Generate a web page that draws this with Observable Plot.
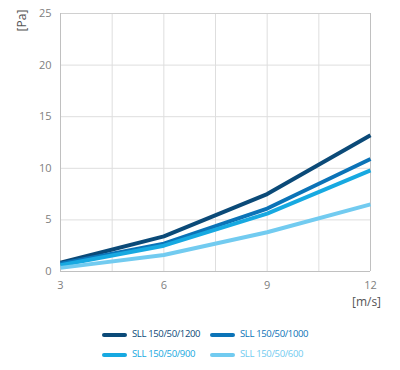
<!DOCTYPE html>
<html><head><meta charset="utf-8">
<script src="https://cdn.jsdelivr.net/npm/d3@7"></script>
<script src="https://cdn.jsdelivr.net/npm/@observablehq/plot@0.6"></script>
<style>
body{margin:0;background:#fff;font-family:"Open Sans",sans-serif;}
#wrap{position:relative;width:400px;height:370px;}
.leg{position:absolute;font-size:9.5px;letter-spacing:-0.35px;white-space:nowrap;line-height:12px;}
.sw{position:absolute;width:25px;height:4px;border-radius:2px;}
</style></head><body>
<div id="wrap"></div>
<script>
const speeds = [3, 6, 9, 12];
const seriesNames = ["SLL 150/50/1200", "SLL 150/50/1000", "SLL 150/50/900", "SLL 150/50/600"];
const colors = ["#0b4a78", "#0b73b7", "#17a9e1", "#72cbf0"];
const v1200 = [0.85, 3.4, 7.5, 13.2];
const v1000 = [0.75, 2.7, 6.1, 10.9];
const v900 = [0.6, 2.5, 5.6, 9.8];
const v600 = [0.35, 1.6, 3.8, 6.5];
const xTicks = [3, 6, 9, 12];
const xGrid = [4.5, 6, 7.5, 9, 10.5, 12];
const yTicks = [0, 5, 10, 15, 20, 25];

const allVals = [v1200, v1000, v900, v600];
const data = [];
seriesNames.forEach((s, i) => speeds.forEach((x, j) => data.push({series: s, x, y: allVals[i][j]})));

const grid = "#dedede";
const plot = Plot.plot({
  width: 400, height: 310,
  marginTop: 13, marginBottom: 39, marginLeft: 60, marginRight: 30,
  style: {fontFamily: "'Open Sans', sans-serif", fontSize: "11px", color: "#808080", background: "#fff"},
  x: {domain: [3, 12], ticks: xTicks, tickSize: 0, tickPadding: 10, label: null},
  y: {domain: [0, 25], ticks: yTicks, tickSize: 0, tickPadding: 9, label: null},
  color: {domain: seriesNames, range: colors},
  marks: [
    Plot.ruleX(xGrid, {stroke: grid, strokeWidth: 1}),
    Plot.ruleY(yTicks.filter(d => d > 0), {stroke: grid, strokeWidth: 1}),
    Plot.ruleY([25], {stroke: "#d0d0d0"}),
    Plot.ruleX([12], {stroke: "#c0c0c0"}),
    Plot.ruleX([3], {stroke: "#c0c0c0"}),
    Plot.ruleY([0], {stroke: "#c0c0c0"}),
    Plot.axisX({ticks: xTicks, tickSize: 0, tickPadding: 10, fill: "#808080"}),
    Plot.axisY({ticks: yTicks, tickSize: 0, tickPadding: 9, fill: "#808080"}),
    Plot.line(data, {x: "x", y: "y", z: "series", stroke: "series", strokeWidth: 4, strokeLinejoin: "miter", strokeLinecap: "butt"}),
    Plot.text(["[Pa]"], {frameAnchor: "top-left", textAnchor: "middle", lineAnchor: "middle", dx: -38, dy: 7, rotate: -90, fill: "#555", fontSize: 12}),
    Plot.text(["[m/s]"], {frameAnchor: "bottom-right", textAnchor: "middle", lineAnchor: "middle", dx: -4, dy: 31, fill: "#555", fontSize: 12})
  ]
});
const wrap = document.getElementById("wrap");
wrap.appendChild(plot);
const pos = [[102, 335], [210, 335], [102, 355], [210, 355]];
seriesNames.forEach((s, i) => {
  const sw = document.createElement("div");
  sw.className = "sw";
  sw.style.left = pos[i][0] + "px"; sw.style.top = (pos[i][1] - 2) + "px";
  sw.style.background = colors[i];
  wrap.appendChild(sw);
  const t = document.createElement("div");
  t.className = "leg";
  t.style.left = (pos[i][0] + 30) + "px"; t.style.top = (pos[i][1] - 7) + "px";
  t.style.color = colors[i];
  t.textContent = s;
  wrap.appendChild(t);
});
</script></body></html>
